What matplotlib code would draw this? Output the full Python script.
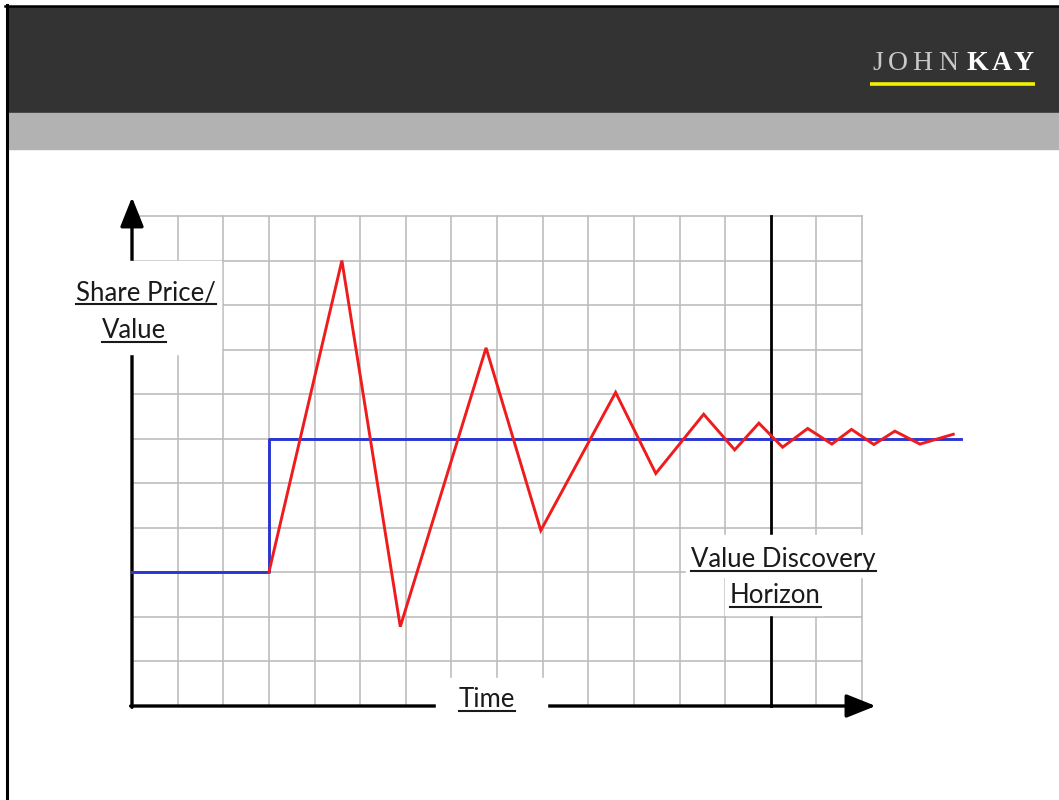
import matplotlib.pyplot as plt
from matplotlib.patches import Rectangle
from matplotlib.lines import Line2D
from matplotlib.transforms import Affine2D

W, H = 1059, 800
plt.rcParams['font.family'] = ['Lato', 'DejaVu Sans']

# grid of 16 x 11 cells, horizon line on column 14
n_cols = 16
n_rows = 11
horizon_t = 14

# fundamental value: steps up once
value_t = [0, 3, 18.18]
value_y = [3, 6, 6]

# share price: overshoots, then settles around the new value
price_t = [3, 4.6, 5.88, 7.76, 8.96, 10.6, 11.48, 12.53, 13.21, 13.74,
           14.26, 14.81, 15.34, 15.77, 16.26, 16.72, 17.27, 18.0]
price_y = [3, 10, 1.78, 8.04, 3.94, 7.04, 5.22, 6.55, 5.75, 6.35,
           5.81, 6.23, 5.88, 6.21, 5.87, 6.17, 5.88, 6.1]

brand = "JOHNKAY"

fig = plt.figure(figsize=(W / 100, H / 100), dpi=100)
ax = fig.add_axes([0, 0, 1, 1])
cw, ch = 45.625, 44.545          # cell size in px
x0, y0 = 132, 706                # origin in px (from top-left)
ax.set_xlim(-x0 / cw, (W - x0) / cw)
ax.set_ylim(-(H - y0) / ch, y0 / ch)
ax.axis('off')

# pixel coords measured from the top-left corner
px = Affine2D().scale(1 / W, -1 / H).translate(0, 1) + fig.transFigure

# header bands and frame
fig.add_artist(Rectangle((7, 7), W - 7, 106, transform=px, color='#333333', zorder=0))
fig.add_artist(Rectangle((7, 113), W - 7, 36, transform=px, color='#b2b2b2', zorder=0))
fig.add_artist(Line2D([7, 7], [5, H], transform=px, color='black', lw=2.2))
fig.add_artist(Line2D([5, W], [6, 6], transform=px, color='black', lw=1.8))

letter_x = [878, 897.5, 922.5, 948, 977.5, 1001.5, 1024]
for i, (ch_, lx) in enumerate(zip(brand, letter_x)):
    bold = i >= 4
    fig.text(lx, 69.5, ch_, transform=px, ha='center', va='baseline',
             family='Liberation Serif', fontsize=20,
             fontweight='bold' if bold else 'normal',
             color='white' if bold else '#c8c8c8')
fig.add_artist(Line2D([870, 1035], [84, 84], transform=px, color='#f2f200', lw=2.6,
                      solid_capstyle='butt'))

# grid
for c in range(1, n_cols + 1):
    if c != horizon_t:
        ax.plot([c, c], [0, n_rows], color='#bdbdbd', lw=1.2, zorder=1)
for r in range(1, n_rows + 1):
    ax.plot([0, n_cols], [r, r], color='#bdbdbd', lw=1.2, zorder=1)
ax.plot([horizon_t, horizon_t], [0, n_rows], color='black', lw=2.0, zorder=2)

# axes with arrow heads
head = '-|>,head_length=0.5,head_width=0.2'
ax.annotate('', xy=(0, 11.42), xytext=(0, -0.03),
            arrowprops=dict(arrowstyle=head, mutation_scale=36, lw=2.4, color='black',
                            shrinkA=0, shrinkB=0), zorder=2)
ax.annotate('', xy=(16.3, 0), xytext=(-0.03, 0),
            arrowprops=dict(arrowstyle=head, mutation_scale=36, lw=2.4, color='black',
                            shrinkA=0, shrinkB=0), zorder=2)

ax.plot(value_t, value_y, drawstyle='steps-post', color='#2a36d2', lw=2.1, zorder=3)
ax.plot(price_t, price_y, color='#ee1c1c', lw=2.1, solid_joinstyle='miter', zorder=4)

# white boxes behind labels
for (bx, by, bw, bh) in [(65, 261, 156, 93), (436, 678, 111, 42),
                          (686, 535, 194, 42), (725, 577, 98, 38)]:
    fig.add_artist(Rectangle((bx, by), bw, bh, transform=px, color='white', zorder=5))

labels = [("Share Price/", 146, 300), ("Value", 134, 338), ("Time", 487, 707),
          ("Value Discovery", 783.5, 566.5), ("Horizon", 775.5, 603)]
texts = []
for s, lx, ly in labels:
    t = fig.text(lx, ly, s, transform=px, ha='center', va='baseline',
                 fontsize=18.5, color='#1a1a1a', zorder=6)
    texts.append((t, ly))

fig.canvas.draw()
renderer = fig.canvas.get_renderer()
for t, ly in texts:
    bb = t.get_window_extent(renderer)
    fig.add_artist(Line2D([bb.x0, bb.x1], [ly + 4, ly + 4], transform=px,
                          color='#1a1a1a', lw=1.5, zorder=6))

fig.savefig('out.png', dpi=100)
